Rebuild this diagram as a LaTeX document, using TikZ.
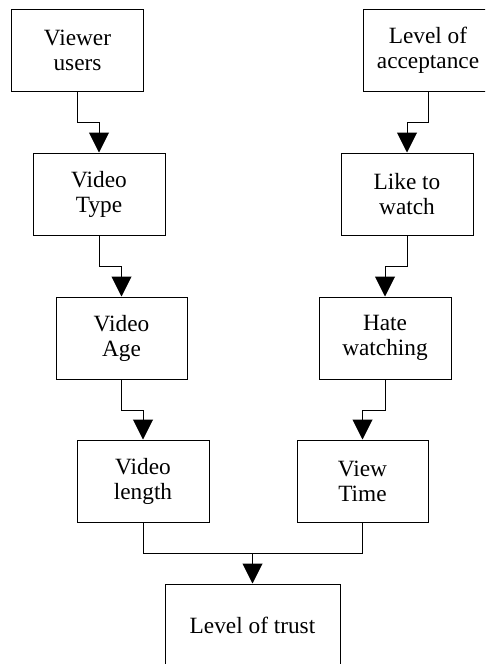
\documentclass[tikz,border=0pt]{standalone}
\usepackage{fontspec}
\setmainfont{Liberation Serif}
\usetikzlibrary{arrows.meta}

\begin{document}
\begin{tikzpicture}[x=1pt,y=1pt,line width=1pt,
  box/.style={draw,black,rectangle,minimum width=132pt,minimum height=82pt,
    inner sep=0pt,align=center,font=\fontsize{23.3}{25}\selectfont},
  flow/.style={-{Triangle[width=20pt,length=20pt]}}]
\useasboundingbox (0,0) rectangle (485,-664);
\clip (0,0) rectangle (485,-664);
\node[box] (viewer) at (77.5,-50) {Viewer\\users};
\node[box,minimum width=130pt] (accept) at (428,-50) {Level of\\acceptance};
\node[box] (vtype) at (99,-194) {Video\\Type};
\node[box] (like) at (407,-194) {Like to\\watch};
\node[box,minimum width=131pt] (vage) at (121.5,-338) {Video\\Age};
\node[box] (hate) at (385,-338) {Hate\\watching};
\node[box] (vlen) at (143,-481) {Video\\length};
\node[box,minimum width=131pt] (vtime) at (362.5,-481) {View\\Time};
\node[box,minimum width=175pt] (trust) at (252.5,-625) {Level of trust};
\draw[flow] (viewer.south) -- ++(0,-31) -| (vtype.north);
\draw[flow] (vtype.south) -- ++(0,-31) -| (vage.north);
\draw[flow] (vage.south) -- ++(0,-31) -| (vlen.north);
\draw[flow] (accept.south) -- ++(0,-31) -| (like.north);
\draw[flow] (like.south) -- ++(0,-31) -| (hate.north);
\draw[flow] (hate.south) -- ++(0,-31) -| (vtime.north);
\draw (vlen.south) -- ++(0,-31) coordinate (join) -| (vtime.south);
\draw[flow] (join -| trust.north) -- (trust.north);
\end{tikzpicture}
\end{document}
